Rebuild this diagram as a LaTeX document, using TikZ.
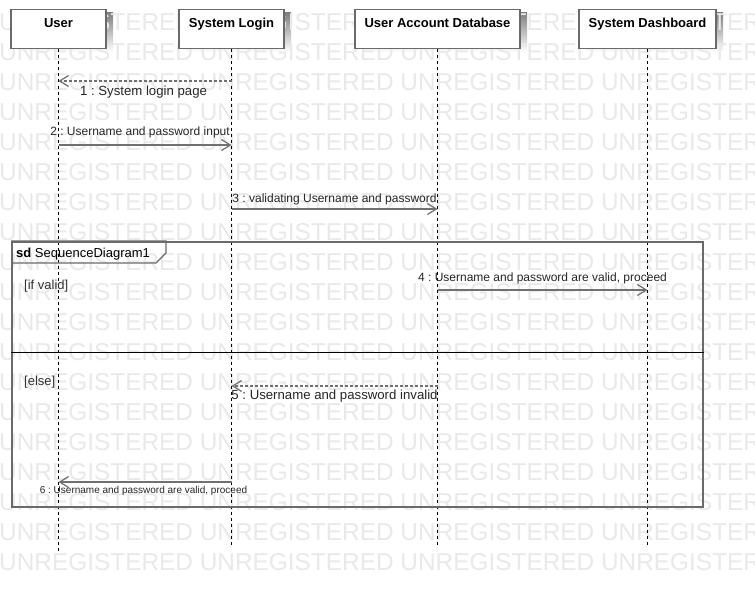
\documentclass[tikz,border=0pt]{standalone}
\usepackage{fontspec}
\setmainfont{Liberation Sans}
\usetikzlibrary{arrows.meta}
\definecolor{wm}{HTML}{E9E9E9}
\definecolor{edge}{HTML}{6A6A6A}
\definecolor{shade}{HTML}{F1F1F1}
\definecolor{msg}{HTML}{707070}
\tikzset{
  headbox/.style={draw=edge, line width=1.5pt, fill=white, inner xsep=0pt, inner ysep=0pt,
    minimum height=39pt, text height=17.5pt, text depth=21.5pt, anchor=north,
    font=\fontsize{13}{15}\selectfont\bfseries},
  watermark/.style={text=wm, anchor=west, inner sep=0pt, font=\fontsize{24.4}{26}\selectfont},
  lifeline/.style={black, line width=0.8pt, dash pattern=on 3pt off 3pt},
  callmsg/.style={msg, line width=1.6pt, -{Straight Barb[length=9pt,width=11pt,line width=1.2pt]}},
  replymsg/.style={msg, line width=1.1pt, dash pattern=on 3pt off 2pt, -{Straight Barb[length=9pt,width=11pt,line width=1.2pt]}},
  msglabel/.style={inner sep=0pt, text=black!85},
  framebox/.style={draw=edge, line width=1.6pt, inner sep=0pt, anchor=north west},
}
\begin{document}
\frenchspacing
\begin{tikzpicture}[x=1pt, y=-1pt]
\useasboundingbox (0,0) rectangle (755,594);
\fill[white] (0,0) rectangle (755,594);
% shadows of lifeline heads
\fill[shade] (18,13) rectangle (113,52);
\fill[shade] (186,13) rectangle (291,52);
\fill[shade] (362,13) rectangle (527,52);
\fill[shade] (586,13) rectangle (723,52);
% watermark
\foreach \r in {0,...,18}
  \node[watermark] (wm\r) at (-1, 22+30*\r) {UNREGISTERED UNREGISTERED UNREGISTERED UNREGISTERED};
% lifeline heads
\node[headbox, minimum width=95pt] (user) at (58.5,9) {User};
\node[headbox, minimum width=105pt] (login) at (231.5,9) {System Login};
\node[headbox, minimum width=165pt] (db) at (437.5,9) {User Account Database};
\node[headbox, minimum width=137pt] (dash) at (647.5,9) {System Dashboard};
% lifeline ends
\coordinate (userend) at (59,551);
\coordinate (loginend) at (232,545);
\coordinate (dbend) at (438,545);
\coordinate (dashend) at (648,545);
\draw[lifeline] (user.south) -- (user.south |- userend);
\draw[lifeline] (login.south) -- (login.south |- loginend);
\draw[lifeline] (db.south) -- (db.south |- dbend);
\draw[lifeline] (dash.south) -- (dash.south |- dashend);
% combined fragment
\node[framebox, minimum width=691pt, minimum height=265pt] (frame) at (11,241) {};
\draw[edge, line width=1.2pt] (frame.north west) -- ++(155,0) -- ++(0,12) -- ++(-10,10) -- ++(-145,0);
\node[anchor=base west, inner sep=0pt, font=\fontsize{13}{15}\selectfont] (sdlabel) at (16,257) {\textbf{sd}\ SequenceDiagram1};
\coordinate (divy) at (0,352);
\draw[black, line width=0.8pt] (frame.west |- divy) -- (frame.east |- divy);
\node[anchor=base west, inner sep=0pt, font=\fontsize{13}{15}\selectfont, text=black!80] (ifvalid) at (24,289.5) {[if valid]};
\node[anchor=base west, inner sep=0pt, font=\fontsize{13}{15}\selectfont, text=black!80] (elsel) at (24,385.5) {[else]};
% message rows
\coordinate (y1) at (0,81);
\coordinate (y2) at (0,145);
\coordinate (y3) at (0,209);
\coordinate (y4) at (0,290);
\coordinate (y5) at (0,386);
\coordinate (y6) at (0,482);
\draw[replymsg] (login |- y1) -- (user |- y1);
\node[msglabel, font=\fontsize{13.2}{15}\selectfont] (l1) at (143.5,92) {1 : System login page};
\draw[callmsg] (user |- y2) -- (login |- y2);
\node[msglabel, font=\fontsize{12}{14}\selectfont] (l2) at (140,132) {2 : Username and password input};
\draw[callmsg] (login |- y3) -- (db |- y3);
\node[msglabel, font=\fontsize{12}{14}\selectfont] (l3) at (334.5,199) {3 : validating Username and password};
\draw[callmsg] (db |- y4) -- (dash |- y4);
\node[msglabel, font=\fontsize{12}{14}\selectfont] (l4) at (542.5,278) {4 : Username and password are valid, proceed};
\draw[replymsg] (db |- y5) -- (login |- y5);
\node[msglabel, font=\fontsize{13.2}{15}\selectfont] (l5) at (334.5,396) {5 : Username and password invalid};
\draw[callmsg] (login |- y6) -- (user |- y6);
\node[msglabel, font=\fontsize{10}{12}\selectfont] (l6) at (143.5,491) {6 : Username and password are valid, proceed};
\end{tikzpicture}
\end{document}
